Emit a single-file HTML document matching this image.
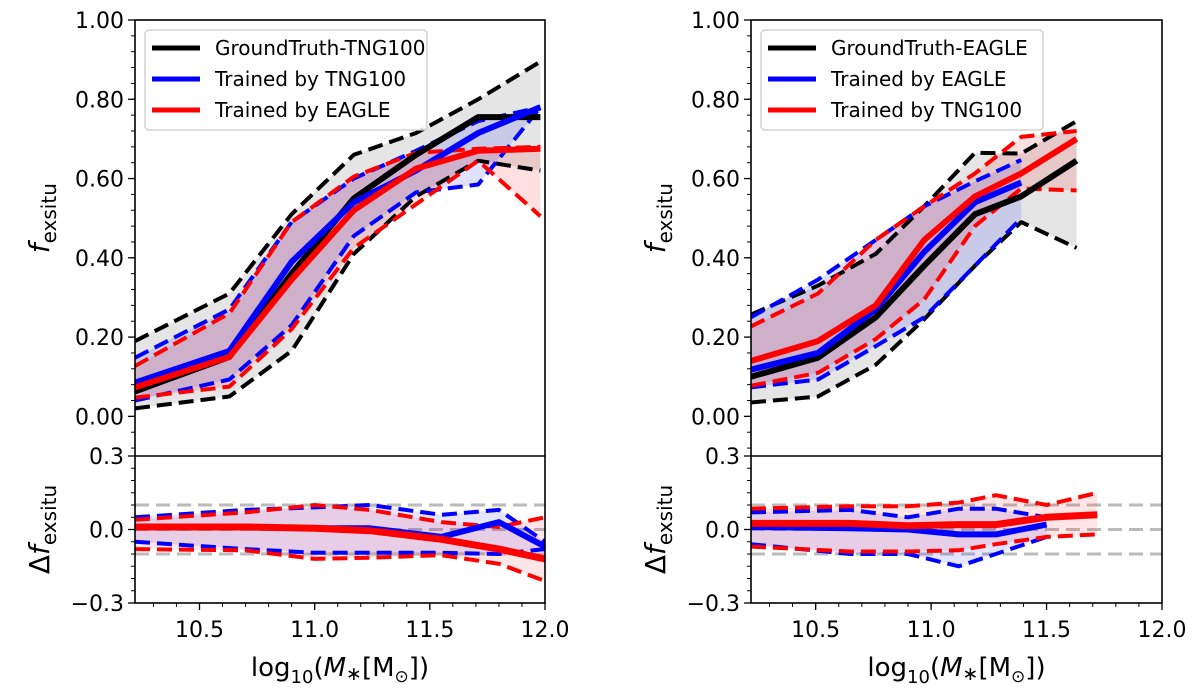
<!DOCTYPE html>
<html><head><meta charset="utf-8"><style>
body{margin:0;background:#fff}
svg{display:block;font-family:"DejaVu Sans","Liberation Sans",sans-serif}
</style></head><body>
<svg id="c" width="1200" height="699" viewBox="0 0 1200 699"></svg>
<script>
// ---- data: left panel (TNG100 ground truth) ----
const xL = [10.22,10.63,10.90,11.17,11.44,11.71,11.98];
const L_gt = [0.063,0.15,0.36,0.55,0.66,0.755,0.755];
const L_gtHi = [0.19,0.31,0.51,0.66,0.715,0.80,0.895];
const L_gtLo = [0.02,0.05,0.165,0.41,0.555,0.645,0.62];
const L_b = [0.085,0.165,0.39,0.54,0.62,0.715,0.78];
const L_bHi = [0.148,0.27,0.49,0.60,0.67,0.745,0.78];
const L_bLo = [0.04,0.093,0.23,0.455,0.565,0.585,0.78];
const L_r = [0.073,0.15,0.345,0.52,0.625,0.67,0.675];
const L_rHi = [0.127,0.26,0.49,0.605,0.665,0.675,0.68];
const L_rLo = [0.047,0.075,0.22,0.425,0.535,0.645,0.505];
const xLd = [10.22,10.7,11.0,11.24,11.55,11.8,12.0];
const Ld_b = [0.01,0.01,0.005,0.005,-0.03,0.03,-0.07];
const Ld_bHi = [0.05,0.08,0.09,0.10,0.06,0.08,-0.05];
const Ld_bLo = [-0.05,-0.08,-0.095,-0.095,-0.095,-0.10,-0.08];
const Ld_r = [0.01,0.01,0.005,-0.005,-0.04,-0.08,-0.12];
const Ld_rHi = [0.04,0.07,0.10,0.08,0.03,0.01,0.05];
const Ld_rLo = [-0.08,-0.085,-0.12,-0.115,-0.105,-0.14,-0.21];
// ---- data: right panel (EAGLE ground truth) ----
const xR = [10.22,10.51,10.76,10.97,11.19,11.39,11.63];
const R_gt = [0.10,0.148,0.25,0.38,0.51,0.555,0.645];
const R_gtHi = [0.257,0.33,0.41,0.53,0.665,0.663,0.745];
const R_gtLo = [0.035,0.05,0.13,0.245,0.38,0.49,0.425];
const R_b = [0.118,0.16,0.27,0.415,0.54,0.59];
const R_bHi = [0.25,0.345,0.445,0.53,0.593,0.647];
const R_bLo = [0.073,0.093,0.177,0.25,0.38,0.50];
const R_r = [0.14,0.19,0.28,0.445,0.555,0.613,0.70];
const R_rHi = [0.227,0.31,0.445,0.53,0.613,0.705,0.72];
const R_rLo = [0.077,0.11,0.195,0.295,0.48,0.575,0.57];
const xRd = [10.22,10.65,10.9,11.12,11.28,11.5,11.72];
const Rd_b = [0.01,0.005,0.0,-0.02,-0.02,0.02];
const Rd_bHi = [0.07,0.08,0.05,0.085,0.085,0.05];
const Rd_bLo = [-0.06,-0.1,-0.1,-0.15,-0.1,-0.03];
const Rd_r = [0.025,0.025,0.015,0.02,0.02,0.05,0.06];
const Rd_rHi = [0.085,0.095,0.095,0.11,0.14,0.10,0.15];
const Rd_rLo = [-0.07,-0.09,-0.09,-0.085,-0.06,-0.03,-0.02];
const topTicks = [0,0.2,0.4,0.6,0.8,1.0];
const botTicks = [-0.3,0,0.3];
const xTicks = [10.5,11.0,11.5,12.0];
const legL = ["GroundTruth-TNG100","Trained by TNG100","Trained by EAGLE"];
const legR = ["GroundTruth-EAGLE","Trained by EAGLE","Trained by TNG100"];

const NS="http://www.w3.org/2000/svg", svg=document.getElementById('c');
function el(t,a,p){const e=document.createElementNS(NS,t);for(const k in a)e.setAttribute(k,a[k]);(p||svg).appendChild(e);return e;}
const XMIN=10.22,XMAX=12.0,TOP=20,MID=456,BOT=603;
function panel(L,R,id,top,bot,legend){
  const sx=v=>L+(v-XMIN)/(XMAX-XMIN)*(R-L);
  const syT=v=>MID-(v+0.1)/1.1*(MID-TOP);
  const syB=v=>BOT-(v+0.3)/0.6*(BOT-MID);
  const g=el('g',{});
  
  
  const cp=el('clipPath',{id:id+'clip'},g);el('rect',{x:L,y:TOP,width:R-L,height:BOT-TOP},cp);
  const d=el('g',{'clip-path':'url(#'+id+'clip)'},g);
  const pts=(xs,ys,sy)=>ys.map((y,i)=>sx(xs[i]).toFixed(1)+','+sy(y).toFixed(1));
  function band(xs,hi,lo,sy,col,op,name){const p=el('polygon',{points:pts(xs,hi,sy).concat(pts(xs,lo,sy).reverse()).join(' '),fill:col,'fill-opacity':op},d);
    }
  function line(xs,ys,sy,col,w,dash,name){const p=el('polyline',{points:pts(xs,ys,sy).join(' '),fill:'none',stroke:col,'stroke-width':w,'stroke-dasharray':dash||'none','stroke-linejoin':'round'},d);
    }
  [-0.1,0,0.1].forEach(v=>{const l=el('line',{x1:L,x2:R,y1:syB(v),y2:syB(v),stroke:'#bbb','stroke-width':3,'stroke-dasharray':'14 7'},d);
    });
  const t=top;
  band(t.x,t.gHi,t.gLo,syT,'#999',0.25,'ground-truth-band');
  band(t.x,t.bHi,t.bLo,syT,'#00f',0.12,'blue-band');
  band(t.x,t.rHi,t.rLo,syT,'#f00',0.12,'red-band');
  line(t.x,t.gHi,syT,'#000',4,'15 7','ground-truth-upper');
  line(t.x,t.gLo,syT,'#000',4,'15 7','ground-truth-lower');
  line(t.x,t.bHi,syT,'#00f',4,'15 7','blue-upper');
  line(t.x,t.bLo,syT,'#00f',4,'15 7','blue-lower');
  line(t.x,t.rHi,syT,'#f00',4,'15 7','red-upper');
  line(t.x,t.rLo,syT,'#f00',4,'15 7','red-lower');
  line(t.x,t.g,syT,'#000',6,null,'ground-truth-median');
  line(t.x,t.b,syT,'#00f',6,null,'blue-median');
  line(t.x,t.r,syT,'#f00',6,null,'red-median');
  const b=bot;
  band(b.x,b.bHi,b.bLo,syB,'#00f',0.1,'blue-delta-band');
  band(b.x,b.rHi,b.rLo,syB,'#f00',0.1,'red-delta-band');
  line(b.x,b.bHi,syB,'#00f',4,'15 7','blue-delta-upper');
  line(b.x,b.bLo,syB,'#00f',4,'15 7','blue-delta-lower');
  line(b.x,b.rHi,syB,'#f00',4,'15 7','red-delta-upper');
  line(b.x,b.rLo,syB,'#f00',4,'15 7','red-delta-lower');
  line(b.x,b.b,syB,'#00f',6,null,'blue-delta-median');
  line(b.x,b.r,syB,'#f00',7,null,'red-delta-median');
  el('rect',{x:L,y:TOP,width:R-L,height:BOT-TOP,fill:'none',stroke:'#000','stroke-width':1.6},g);
  el('line',{x1:L,x2:R,y1:MID,y2:MID,stroke:'#000','stroke-width':1.6},g);
  for(let v=-0.08;v<=1.001;v+=0.04){const y=syT(v);el('line',{x1:L-4,x2:L,y1:y,y2:y,stroke:'#000','stroke-width':1},g);}
  topTicks.forEach(v=>{const y=syT(v);el('line',{x1:L-7,x2:L,y1:y,y2:y,stroke:'#000','stroke-width':1.3},g);
    const tx=el('text',{x:L-11,y:y+8,'font-size':22,'text-anchor':'end'},g);tx.textContent=v.toFixed(2);
    });
  for(let v=-0.3;v<=0.301;v+=0.05){const y=syB(v);el('line',{x1:L-4,x2:L,y1:y,y2:y,stroke:'#000','stroke-width':1},g);}
  botTicks.forEach(v=>{const y=syB(v);el('line',{x1:L-7,x2:L,y1:y,y2:y,stroke:'#000','stroke-width':1.3},g);
    const tx=el('text',{x:L-11,y:y+8,'font-size':22,'text-anchor':'end'},g);tx.textContent=(v<0?'\u22120.3':v.toFixed(1));
    });
  for(let v=10.3;v<=12.001;v+=0.1){const x=sx(v);el('line',{x1:x,x2:x,y1:BOT,y2:BOT+4,stroke:'#000','stroke-width':1},g);}
  xTicks.forEach(v=>{const x=sx(v);el('line',{x1:x,x2:x,y1:BOT,y2:BOT+7,stroke:'#000','stroke-width':1.3},g);
    const tx=el('text',{x:x,y:BOT+34,'font-size':22,'text-anchor':'middle'},g);tx.textContent=v.toFixed(1);
    });
  const yl=el('text',{transform:`translate(${L-86},${syT(0.5)}) rotate(-90)`,'font-size':28,'text-anchor':'middle'},g);
  yl.innerHTML='<tspan font-style="italic">f</tspan><tspan font-size="20" dy="7">exsitu</tspan>';
  
  const dl=el('text',{transform:`translate(${L-86},${syB(0)}) rotate(-90)`,'font-size':28,'text-anchor':'middle'},g);
  dl.innerHTML='\u0394<tspan font-style="italic">f</tspan><tspan font-size="20" dy="7">exsitu</tspan>';
  
  const xl=el('text',{x:(L+R)/2,y:676,'font-size':26,'text-anchor':'middle'},g);
  xl.innerHTML='log<tspan font-size="18" dy="7">10</tspan><tspan dy="-7">(</tspan><tspan font-style="italic">M</tspan><tspan font-size="19" dy="4">\u2217</tspan><tspan dy="-4">[M</tspan><tspan font-size="17" dy="6">\u2299</tspan><tspan dy="-6">])</tspan>';
  
  const lg=el('g',{},g);
  const lw=legend[0].length>18?296:282;
  el('rect',{x:L+10,y:TOP+10,width:lw,height:100,rx:4,fill:'#fff','fill-opacity':0.85,stroke:'#ccc','stroke-width':1.3},lg);
  ['#000','#00f','#f00'].forEach((c,i)=>{const y=TOP+28+i*31;
    el('line',{x1:L+17,x2:L+65,y1:y,y2:y,stroke:c,'stroke-width':5},lg);
    const tx=el('text',{x:L+80,y:y+7,'font-size':20},lg);tx.textContent=legend[i];
    });
}
panel(135,545,'left',
 {x:xL,g:L_gt,gHi:L_gtHi,gLo:L_gtLo,b:L_b,bHi:L_bHi,bLo:L_bLo,r:L_r,rHi:L_rHi,rLo:L_rLo},
 {x:xLd,b:Ld_b,bHi:Ld_bHi,bLo:Ld_bLo,r:Ld_r,rHi:Ld_rHi,rLo:Ld_rLo},legL);
panel(751,1162,'right',
 {x:xR,g:R_gt,gHi:R_gtHi,gLo:R_gtLo,b:R_b,bHi:R_bHi,bLo:R_bLo,r:R_r,rHi:R_rHi,rLo:R_rLo},
 {x:xRd,b:Rd_b,bHi:Rd_bHi,bLo:Rd_bLo,r:Rd_r,rHi:Rd_rHi,rLo:Rd_rLo},legR);
</script>
</body></html>
